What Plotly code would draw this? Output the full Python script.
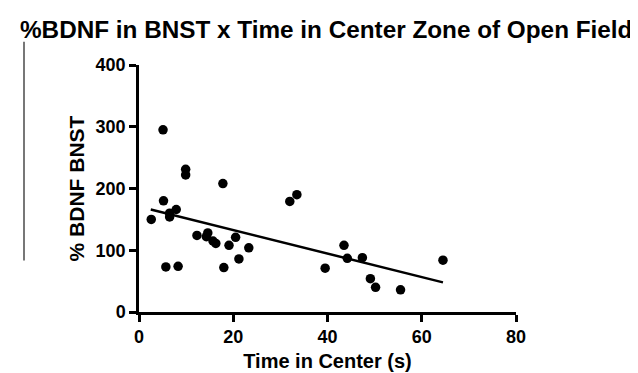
import plotly.graph_objects as go

time_center = [2.6, 5.1, 5.2, 5.7, 6.5, 6.5, 7.9, 8.3, 9.9, 9.9, 12.3, 14.3, 14.6, 15.7,
               16.3, 17.8, 18.0, 19.1, 20.5, 21.2, 23.3, 32.0, 33.5, 39.5, 43.5, 44.2,
               47.4, 49.1, 50.2, 55.5, 64.5]
bdnf_pct = [150, 295, 180, 73, 160, 154, 166, 74, 231, 222, 124, 122, 128, 115,
            111, 208, 72, 108, 121, 86, 104, 179, 190, 71, 108, 87,
            88, 54, 40, 36, 84]
fit_x = [2.5, 64.5]
fit_y = [166, 48]

x_ticks = [0, 20, 40, 60, 80]
y_ticks = [0, 100, 200, 300, 400]

FONT = "Arial, Liberation Sans, sans-serif"

fig = go.Figure()
fig.add_trace(go.Scatter(x=fit_x, y=fit_y, mode="lines",
                         line=dict(color="black", width=2.5), showlegend=False))
fig.add_trace(go.Scatter(x=time_center, y=bdnf_pct, mode="markers",
                         marker=dict(color="black", size=9.5), showlegend=False,
                         cliponaxis=False))

axis_common = dict(showline=True, linecolor="black", linewidth=2.5,
                   ticks="outside", tickcolor="black", tickwidth=2.5, ticklen=7,
                   showgrid=False, zeroline=False,
                   tickfont=dict(family=FONT, size=18, color="black", weight="bold"))

fig.update_xaxes(range=[0, 80], tickvals=x_ticks, **axis_common,
                 title=dict(text="Time in Center (s)", standoff=8,
                            font=dict(family=FONT, size=20, color="black", weight="bold")))
fig.update_yaxes(range=[0, 400], tickvals=y_ticks, **axis_common,
                 title=dict(text="% BDNF BNST", standoff=6,
                            font=dict(family=FONT, size=21, color="black", weight="bold")))

fig.add_shape(type="line", xref="paper", yref="paper",
              x0=(16-131)/377, x1=(16-131)/377, y0=(311-33)/254, y1=(311-258)/254,
              line=dict(color="#777777", width=2))

fig.update_layout(
    width=638, height=373,
    margin=dict(l=131, r=130, t=57, b=62),
    paper_bgcolor="white", plot_bgcolor="white",
    title=dict(text="%BDNF in BNST x Time in Center Zone of Open Field",
               x=12/638, xanchor="left", xref="container",
               y=1 - 21/373, yanchor="middle", yref="container",
               font=dict(family=FONT, size=24.3, color="black", weight="bold")),
)

fig.write_html("out.html")
